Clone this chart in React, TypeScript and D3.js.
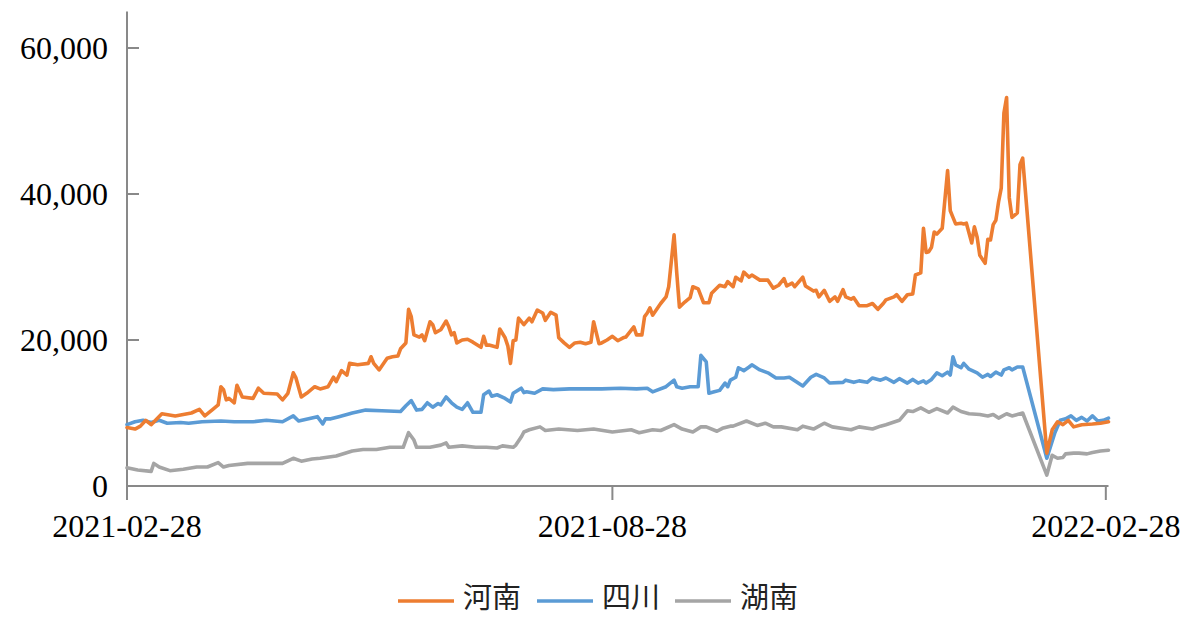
import React from "react";
import * as d3 from "d3";

// Daily spot prices. x = days since 2021-02-28.
const startDate = "2021-02-28";
const endDate = "2022-03-01";
const xTickLabels = ["2021-02-28", "2021-08-28", "2022-02-28"];
const yTickValues = [0, 20000, 40000, 60000];
const seriesNames = ["河南", "四川", "湖南"];
const seriesColors = ["#ED7D31", "#5B9BD5", "#A5A5A5"];

const henan: [number, number][] = [
  [0, 8000], [3, 7800], [5, 8200], [7, 9000], [9, 8400], [13, 9900], [18, 9600], [24, 10000],
  [27, 10500], [29, 9600], [32, 10500], [34, 11100], [35, 13600], [36, 13200], [37, 11800],
  [38, 12000], [40, 11400], [41, 13800], [43, 12200], [47, 12000], [49, 13400], [51, 12700],
  [56, 12600], [58, 11800], [60, 12700], [62, 15500], [63, 14800], [65, 12200], [67, 12700],
  [70, 13600], [72, 13300], [75, 13600], [77, 14900], [78, 14300], [80, 15800], [82, 15200],
  [83, 16800], [86, 16600], [90, 16800], [91, 17700], [92, 16800], [94, 15900], [97, 17500],
  [99, 17700], [101, 17800], [102, 18800], [104, 19600], [105, 24200], [106, 23200], [107, 20700],
  [109, 20400], [110, 20700], [111, 19900], [113, 22500], [114, 22100], [115, 21000], [117, 21400],
  [119, 22600], [120, 21800], [121, 20700], [122, 21000], [123, 19600], [125, 20000], [127, 20100],
  [129, 19700], [132, 19000], [133, 20500], [134, 19300], [135, 19300], [138, 19000], [139, 21500],
  [141, 20300], [142, 19200], [143, 16800], [144, 19900], [145, 20000], [146, 23000], [148, 22100],
  [150, 23000], [151, 22500], [153, 24100], [155, 23700], [156, 22700], [158, 23800], [160, 23400],
  [161, 20300], [163, 19600], [165, 19000], [167, 19600], [169, 19700], [171, 19500], [173, 19700],
  [174, 22500], [176, 19500], [177, 19600], [179, 20000], [181, 20500], [183, 19900], [185, 20300],
  [186, 20400], [189, 21800], [190, 20700], [192, 20700], [193, 23200], [194, 23700], [195, 24400],
  [196, 23400], [199, 25000], [201, 25900], [202, 27300], [204, 34400], [205, 29200], [206, 24500],
  [208, 25200], [210, 25800], [211, 27300], [213, 27000], [215, 25100], [217, 25100], [218, 26400],
  [221, 27500], [223, 27300], [224, 28000], [226, 27300], [227, 28600], [229, 28100], [230, 29300],
  [232, 28600], [233, 28900], [236, 28200], [239, 28200], [241, 27100], [243, 27500], [245, 28400],
  [246, 27400], [248, 27800], [249, 27300], [252, 28600], [253, 27400], [256, 26700], [257, 26800],
  [258, 25900], [260, 26800], [262, 25300], [264, 25900], [265, 25300], [267, 26900], [268, 25900],
  [270, 25600], [271, 25800], [273, 24700], [276, 24700], [278, 25000], [280, 24200], [282, 25000],
  [283, 25500], [286, 25900], [287, 26200], [289, 25300], [291, 26200], [293, 26300], [294, 28900],
  [296, 29200], [297, 35300], [298, 32000], [299, 32100], [300, 32700], [301, 34800], [302, 34500],
  [304, 35300], [306, 43200], [307, 37700], [308, 36800], [309, 35900], [311, 36000], [312, 35900],
  [313, 36000], [315, 33300], [316, 35500], [317, 34100], [318, 31600], [320, 30500], [321, 33800],
  [322, 33700], [323, 35800], [324, 36400], [325, 38900], [326, 40800], [327, 51100], [328, 53200],
  [329, 39500], [330, 36800], [332, 37400], [333, 44000], [334, 44900], [343, 4500], [345, 7700],
  [347, 8800], [349, 8400], [351, 9000], [353, 8100], [356, 8400], [360, 8500], [363, 8600], [366, 8800],
];

const sichuan: [number, number][] = [
  [0, 8400], [3, 8800], [6, 9000], [9, 8700], [12, 9000], [15, 8600], [20, 8700], [23, 8600],
  [28, 8800], [35, 8900], [40, 8800], [47, 8800], [52, 9000], [58, 8800], [62, 9600], [64, 8900],
  [71, 9500], [73, 8500], [74, 9200], [76, 9200], [79, 9500], [84, 10000], [89, 10400], [95, 10300],
  [102, 10200], [104, 11000], [106, 11700], [108, 10400], [110, 10500], [112, 11400], [114, 10800],
  [116, 11300], [117, 11100], [119, 12200], [121, 11400], [123, 10800], [125, 10500], [127, 11400],
  [129, 10100], [132, 10100], [133, 12500], [135, 13000], [136, 12300], [138, 12500], [141, 12000],
  [143, 11500], [144, 12700], [147, 13400], [148, 12800], [149, 12900], [152, 12700], [155, 13300],
  [159, 13200], [165, 13300], [172, 13300], [177, 13300], [184, 13400], [190, 13300], [194, 13400],
  [196, 12900], [201, 13600], [204, 14500], [205, 13600], [207, 13400], [210, 13600], [213, 13600],
  [214, 17900], [216, 17000], [217, 12700], [219, 12900], [221, 13100], [223, 14100], [224, 13600],
  [225, 14500], [227, 14900], [228, 16200], [230, 15800], [232, 16300], [233, 16600], [236, 15900],
  [239, 15500], [242, 14800], [245, 14800], [247, 14900], [252, 13700], [255, 14900], [257, 15300],
  [260, 14800], [262, 14100], [267, 14200], [268, 14500], [271, 14200], [273, 14400], [276, 14200],
  [278, 14800], [281, 14500], [283, 14800], [286, 14200], [288, 14700], [291, 14100], [293, 14600],
  [295, 14100], [297, 14400], [298, 14100], [300, 14600], [302, 15500], [304, 15100], [306, 15600],
  [307, 15200], [308, 17700], [309, 16600], [311, 16200], [312, 16800], [314, 16000], [317, 15500],
  [319, 14900], [321, 15300], [322, 15000], [324, 15600], [326, 15200], [327, 15900], [329, 16200],
  [330, 15900], [332, 16300], [334, 16300], [343, 3800], [346, 7300], [348, 9000], [350, 9200],
  [352, 9600], [354, 9000], [356, 9400], [358, 8900], [360, 9600], [362, 8900], [364, 9000], [366, 9300],
];

const hunan: [number, number][] = [
  [0, 2500], [4, 2200], [9, 2000], [10, 3100], [12, 2600], [16, 2100], [21, 2300], [26, 2600],
  [30, 2600], [34, 3200], [36, 2600], [38, 2800], [45, 3100], [52, 3100], [58, 3100], [62, 3800],
  [65, 3400], [69, 3700], [72, 3800], [76, 4000], [78, 4100], [84, 4800], [88, 5000], [93, 5000],
  [98, 5300], [103, 5300], [105, 7300], [107, 6300], [108, 5300], [113, 5300], [117, 5600],
  [119, 5900], [120, 5300], [125, 5500], [130, 5300], [134, 5300], [138, 5200], [140, 5500],
  [144, 5300], [145, 5600], [147, 6700], [148, 7400], [150, 7700], [154, 8100], [156, 7600],
  [161, 7800], [168, 7600], [174, 7800], [181, 7400], [188, 7700], [191, 7300], [196, 7700],
  [199, 7600], [204, 8400], [207, 7800], [211, 7400], [214, 8100], [216, 8100], [220, 7500],
  [222, 7900], [225, 8200], [226, 8200], [231, 8900], [235, 8300], [238, 8600], [241, 8100],
  [244, 8100], [250, 7700], [252, 8200], [256, 7800], [260, 8600], [263, 8100], [270, 7700],
  [273, 8100], [278, 7800], [281, 8200], [283, 8400], [288, 9000], [291, 10300], [293, 10200],
  [296, 10700], [299, 10100], [302, 10600], [306, 10000], [308, 10800], [311, 10200], [314, 9900],
  [318, 9800], [321, 9600], [323, 9800], [325, 9300], [328, 9900], [330, 9600], [334, 10000],
  [343, 1500], [345, 4200], [347, 3800], [349, 3900], [350, 4400], [353, 4500], [355, 4500],
  [358, 4400], [360, 4600], [363, 4800], [366, 4900],
];

const allSeries = [henan, sichuan, hunan];

const W = 1186;
const H = 617;
const FONT = "'Liberation Serif', 'Times New Roman', serif";
const CJK = "'Noto Sans CJK SC', sans-serif";

export default function App() {
  const parse = d3.timeParse("%Y-%m-%d");
  const t0 = parse(startDate) as Date;
  const t1 = parse(endDate) as Date;
  const x = d3.scaleTime().domain([t0, t1]).range([127, 1108.5]);
  const y = d3.scaleLinear().domain([0, 65000]).range([486, 11.5]);
  const fmt = d3.format(",");

  const line = d3
    .line<[number, number]>()
    .x((d) => x(d3.timeDay.offset(t0, d[0])))
    .y((d) => y(d[1]));

  const axisColor = "#898989";
  const legendX = [398, 537, 675];

  return (
    <svg
      width={W}
      height={H}
      style={{ position: "absolute", left: 0, top: 0, background: "#fff" }}
    >
      {/* axes */}
      <line x1={127} x2={127} y1={y(65000)} y2={500} stroke={axisColor} strokeWidth={2} />
      <line x1={127} x2={x(t1)} y1={y(0)} y2={y(0)} stroke={axisColor} strokeWidth={2} />
      {yTickValues.map((v) => (
        <g key={v}>
          {v > 0 && (
            <line x1={127} x2={139} y1={y(v)} y2={y(v)} stroke={axisColor} strokeWidth={2} />
          )}
          <text
            x={108}
            y={y(v)}
            dy="0.33em"
            textAnchor="end"
            fontFamily={FONT}
            fontSize={32}
            fill="#000"
          >
            {fmt(v)}
          </text>
        </g>
      ))}
      {xTickLabels.map((s) => {
        const xv = x(parse(s) as Date);
        return (
          <g key={s}>
            <line x1={xv} x2={xv} y1={y(0)} y2={500} stroke={axisColor} strokeWidth={2} />
            <text x={xv} y={537} textAnchor="middle" fontFamily={FONT} fontSize={32} fill="#000">
              {s}
            </text>
          </g>
        );
      })}

      {/* series: gray, blue, then orange on top */}
      {[2, 1, 0].map((i) => (
        <path
          key={i}
          d={line(allSeries[i]) || ""}
          fill="none"
          stroke={seriesColors[i]}
          strokeWidth={3.6}
          strokeLinejoin="round"
          strokeLinecap="round"
        />
      ))}

      {/* legend */}
      {seriesNames.map((n, i) => (
        <g key={n}>
          <line
            x1={legendX[i]}
            x2={legendX[i] + 56}
            y1={601}
            y2={601}
            stroke={seriesColors[i]}
            strokeWidth={3.6}
          />
          <text x={legendX[i] + 65} y={608} fontFamily={CJK} fontSize={29} fill="#222">
            {n}
          </text>
        </g>
      ))}
    </svg>
  );
}
